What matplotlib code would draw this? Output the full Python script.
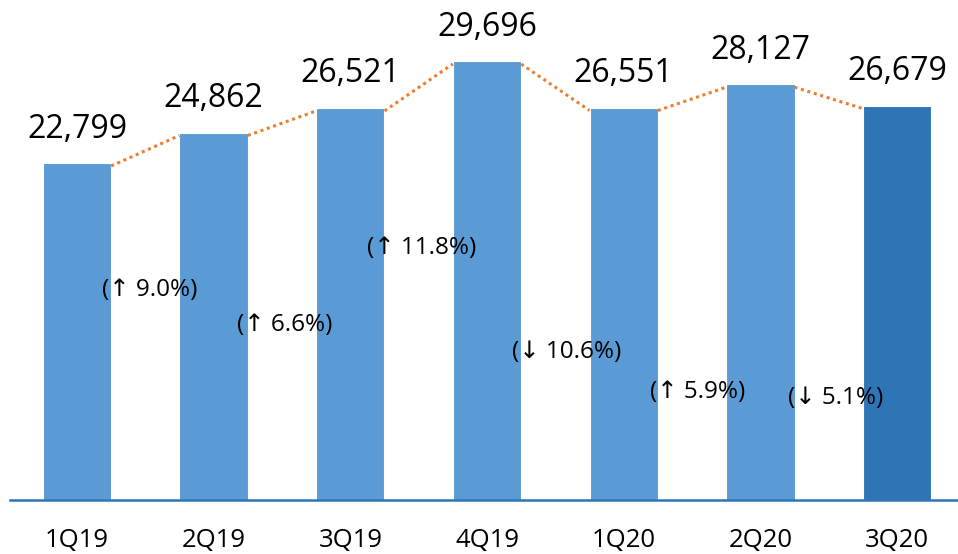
import matplotlib.pyplot as plt
import numpy as np

# quarterly values
quarters = ["1Q19", "2Q19", "3Q19", "4Q19", "1Q20", "2Q20", "3Q20"]
values = [22799, 24862, 26521, 29696, 26551, 28127, 26679]
changes = ["(↑ 9.0%)", "(↑ 6.6%)", "(↑ 11.8%)", "(↓ 10.6%)", "(↑ 5.9%)", "(↓ 5.1%)"]

# where the change labels sit (height in data units, x offset from gap centre)
change_y = [14200, 11850, 17050, 10000, 7300, 6900]
change_dx = [0.03, 0.02, 0.02, 0.08, 0.04, 0.05]

plt.rcParams['font.family'] = ['Open Sans', 'DejaVu Sans']

fig = plt.figure(figsize=(9.58, 5.54), dpi=100)
ax = fig.add_axes([10 / 958, 54 / 554, 948 / 958, 473 / 554])

x = np.arange(len(quarters))
colors = ['#5B9BD5'] * (len(quarters) - 1) + ['#2E75B6']
w = 0.5
ax.bar(x, values, width=w, color=colors, edgecolor='white', linewidth=0.8)

# dotted connectors from top-right of one bar to top-left of the next
for i in range(len(values) - 1):
    ax.plot([x[i] + w / 2, x[i + 1] - w / 2], [values[i] - 200, values[i + 1] - 200],
            color='#ED7D31', linestyle=(0, (1, 1.2)), linewidth=2.2)

for i, v in enumerate(values):
    ax.text(x[i], v + 2300, f"{v:,}", ha='center', va='center', fontsize=23, color='black')

for i, c in enumerate(changes):
    ax.text(x[i] + 0.5 + change_dx[i], change_y[i], c, ha='center', va='center',
            fontsize=17.5, color='black')

ax.set_xlim(-0.49, 6.446)
ax.set_ylim(0, 32000)
ax.set_xticks(x)
ax.set_xticklabels(quarters, fontsize=18.5, color='black')
ax.tick_params(axis='x', length=0, pad=20)
ax.set_yticks([])
for s in ['top', 'right', 'left']:
    ax.spines[s].set_visible(False)
ax.spines['bottom'].set_color('#2E75B6')
ax.spines['bottom'].set_linewidth(1.8)

fig.savefig("out.png", dpi=100)
